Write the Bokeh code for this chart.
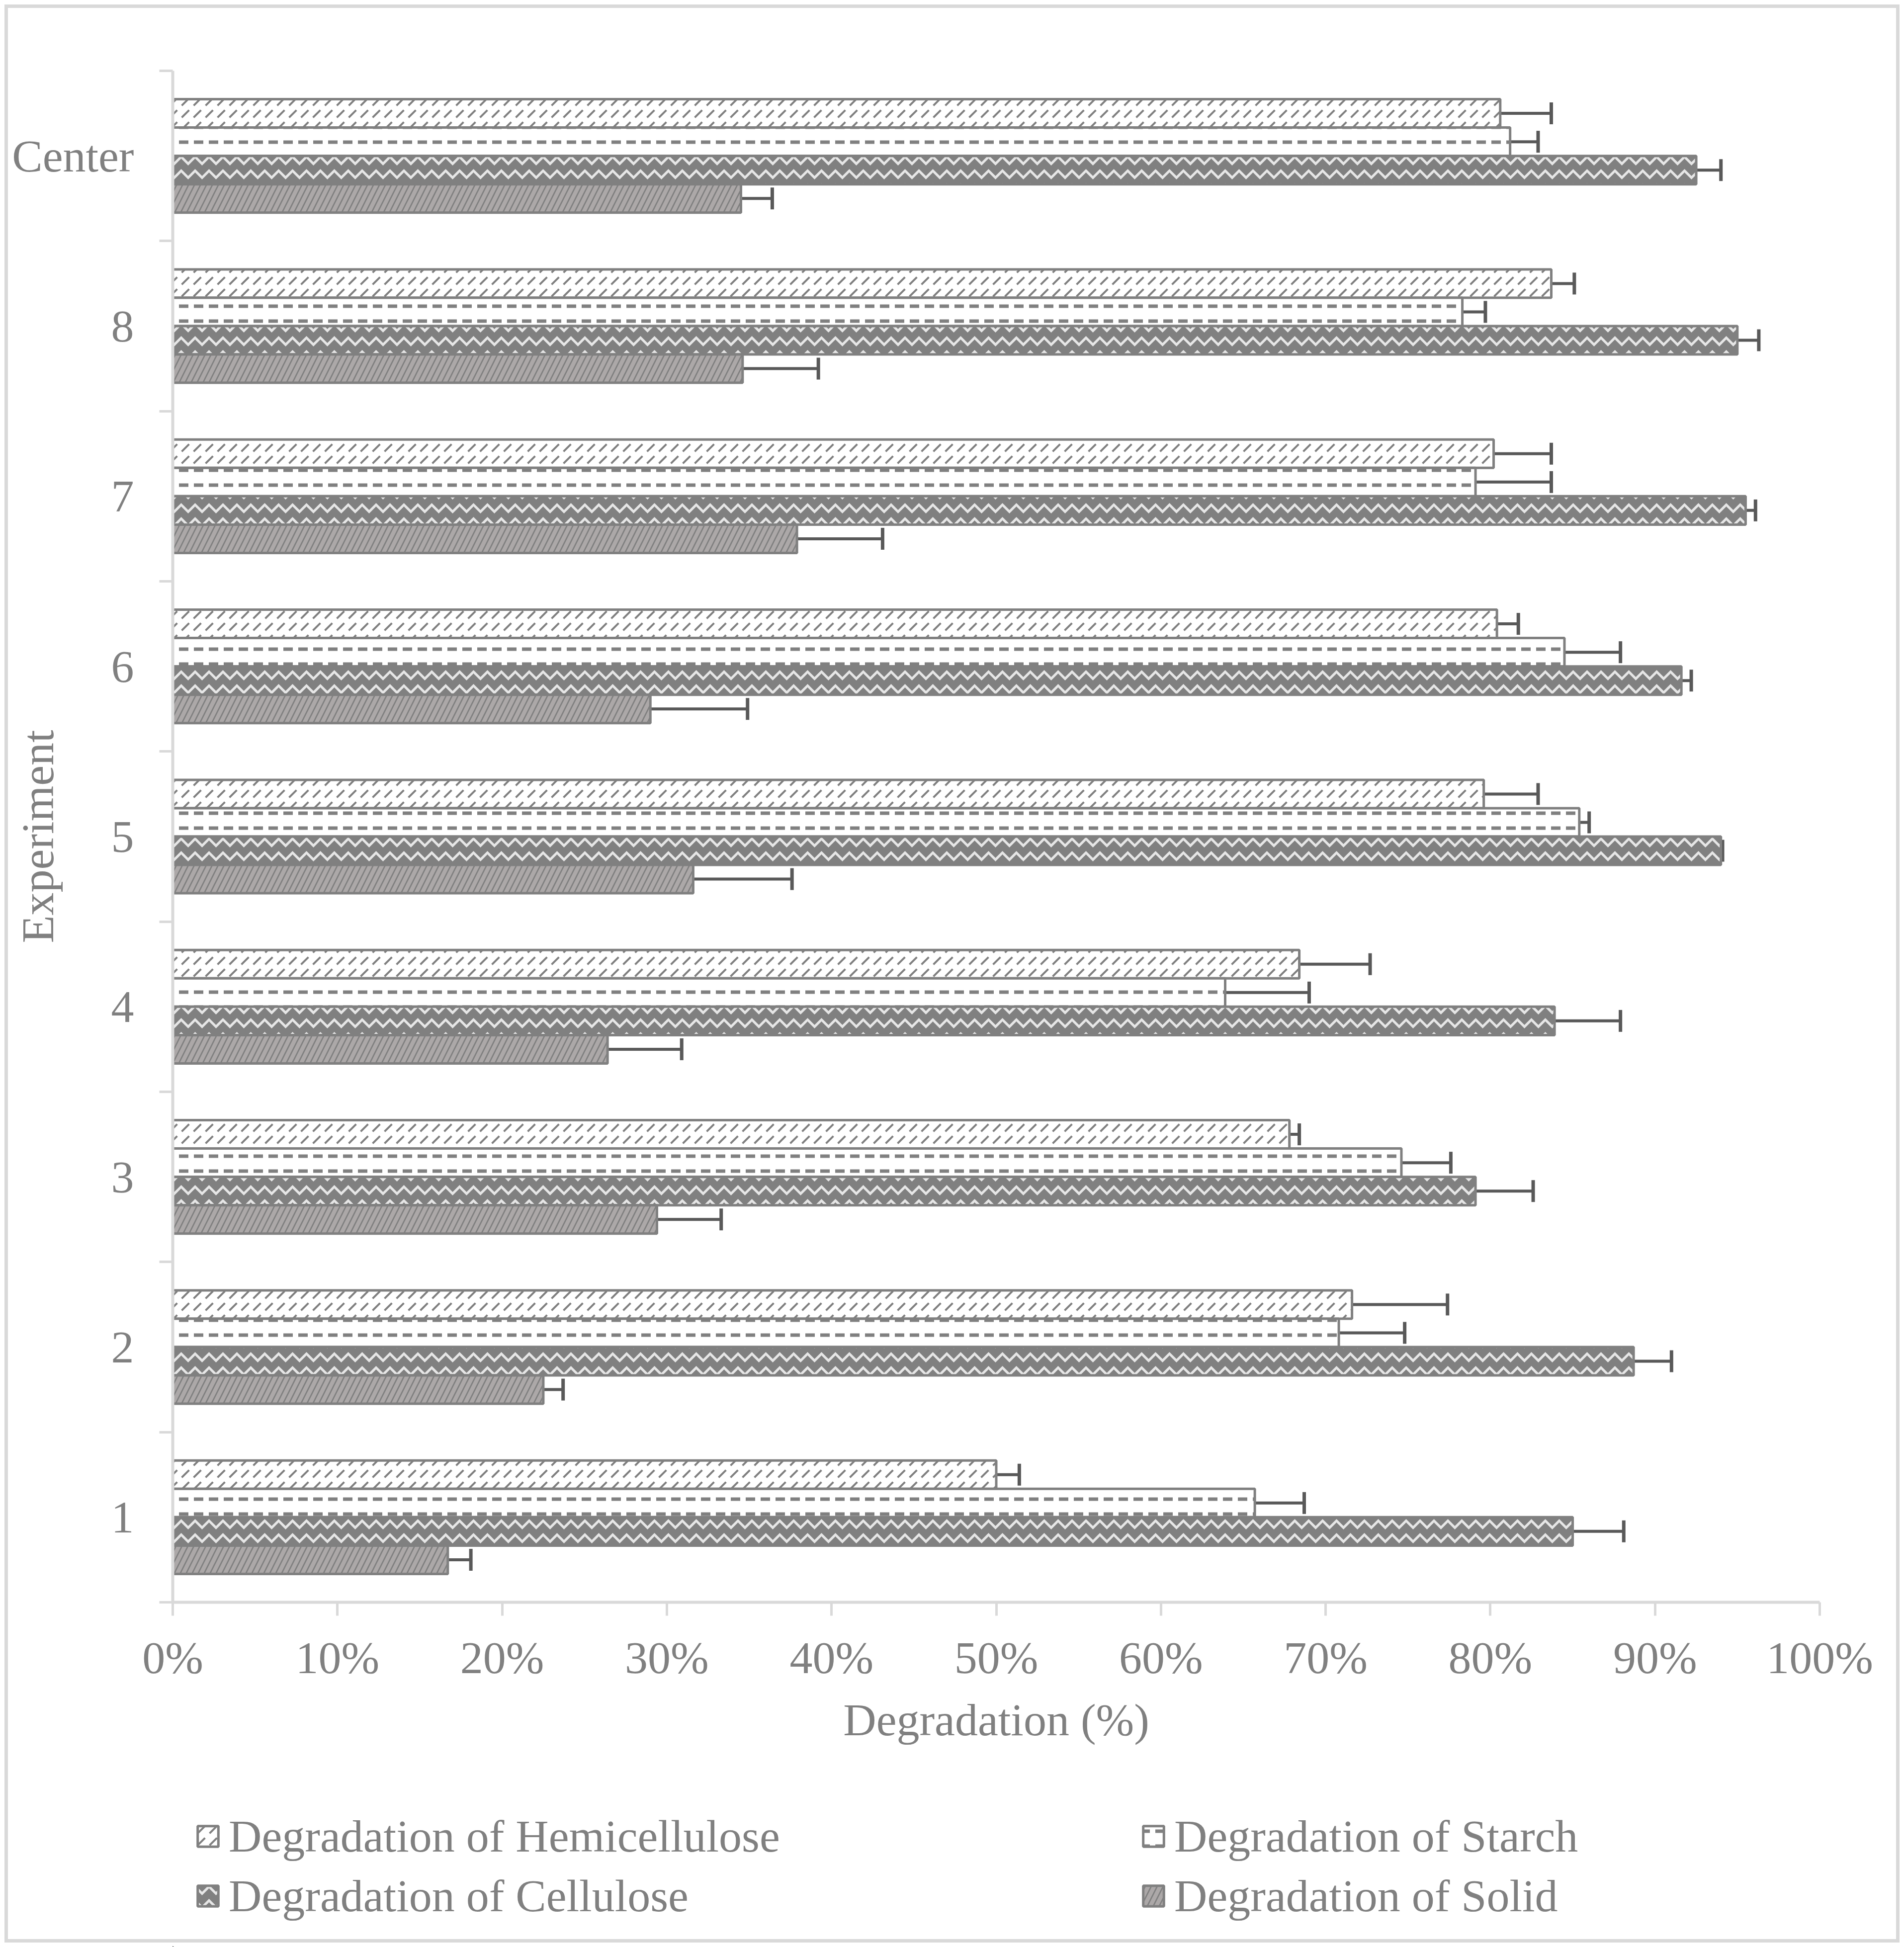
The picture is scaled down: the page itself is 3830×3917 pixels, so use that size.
import math
from bokeh.plotting import figure
from bokeh.layouts import column
from bokeh.models import (Range1d, FixedTicker, PrintfTickFormatter, Whisker, TeeHead,
                          ColumnDataSource, Legend, LegendItem)
from bokeh.embed import file_html
from bokeh.resources import INLINE

# ---------------- data ----------------
categories = ["1", "2", "3", "4", "5", "6", "7", "8", "Center"]
series_names = ["Degradation of Hemicellulose", "Degradation of Starch",
                "Degradation of Cellulose", "Degradation of Solid"]
hemicellulose = [50.0, 71.6, 67.8, 68.4, 79.6, 80.4, 80.2, 83.7, 80.6]
hemicellulose_err = [1.4, 5.8, 0.6, 4.3, 3.3, 1.3, 3.5, 1.4, 3.1]
starch = [65.7, 70.8, 74.6, 63.9, 85.4, 84.5, 79.1, 78.3, 81.2]
starch_err = [3.0, 4.0, 3.0, 5.1, 0.6, 3.4, 4.6, 1.4, 1.7]
cellulose = [85.0, 88.7, 79.1, 83.9, 94.0, 91.6, 95.5, 95.0, 92.5]
cellulose_err = [3.1, 2.3, 3.5, 4.0, 0.1, 0.6, 0.6, 1.3, 1.5]
solid = [16.7, 22.5, 29.4, 26.4, 31.6, 29.0, 37.9, 34.6, 34.5]
solid_err = [1.4, 1.2, 3.9, 4.5, 6.0, 5.9, 5.2, 4.6, 1.9]
x_ticks = [0, 10, 20, 30, 40, 50, 60, 70, 80, 90, 100]
x_label = "Degradation (%)"
y_label = "Experiment"

# ---------------- styling ----------------
FONT = "Liberation Serif"
FS = "92px"
TXT = "#808080"
AX = "#d9d9d9"
BAR_LINE = "#808080"
ERR = "#595959"

W = 3830
H_TOP = 3580
H_LEG = 337
F_LEFT, F_RIGHT, F_TOP, F_BOTTOM = 347, 3660, 142, 3223

p = figure(width=W, height=H_TOP, output_backend="svg", toolbar_location=None,
           x_range=Range1d(0, 100), y_range=Range1d(0, len(categories)),
           min_border_left=F_LEFT, min_border_right=W - F_RIGHT, min_border_top=F_TOP,
           min_border_bottom=H_TOP - F_BOTTOM)
p.outline_line_color = None
p.xgrid.visible = False
p.ygrid.visible = False
p.border_fill_color = None
p.background_fill_color = None

n = len(categories)
group_frac = 1 / 1.5
bh = group_frac / 4
offsets = [1.5 * bh, 0.5 * bh, -0.5 * bh, -1.5 * bh]

styles = [
    dict(fill_color="white", hatch_pattern="right_diagonal_dash", hatch_color="#808080",
         hatch_scale=24, hatch_weight=4),
    dict(fill_color="white", hatch_pattern="horizontal_dash", hatch_color="#808080",
         hatch_scale=30, hatch_weight=7),
    dict(fill_color="#808080", hatch_pattern="horizontal_wave", hatch_color="#e6e6e6",
         hatch_scale=28, hatch_weight=5),
    dict(fill_color="#808080", hatch_pattern="right_diagonal_line", hatch_color="#aca8a8",
         hatch_scale=24, hatch_weight=8),
]
vals = [hemicellulose, starch, cellulose, solid]
errs = [hemicellulose_err, starch_err, cellulose_err, solid_err]

for k in range(4):
    ys = [i + 0.5 + offsets[k] for i in range(n)]
    src = ColumnDataSource(dict(y=ys, right=vals[k],
                                lower=[v - e for v, e in zip(vals[k], errs[k])],
                                upper=[v + e for v, e in zip(vals[k], errs[k])]))
    p.hbar(y="y", left=0, right="right", height=bh, source=src,
           line_color=BAR_LINE, line_width=5, **styles[k])
    w = Whisker(source=src, base="y", lower="lower", upper="upper", dimension="width",
                line_color=ERR, line_width=6,
                lower_head=TeeHead(size=44, line_color=ERR, line_width=7),
                upper_head=TeeHead(size=44, line_color=ERR, line_width=7))
    p.add_layout(w)

# x axis
xa = p.xaxis[0]
xa.ticker = FixedTicker(ticks=x_ticks)
xa.formatter = PrintfTickFormatter(format="%d%%")
xa.axis_line_color = AX
xa.axis_line_width = 6
xa.major_tick_line_color = AX
xa.major_tick_line_width = 5
xa.major_tick_out = 27
xa.major_tick_in = 0
xa.minor_tick_line_color = None
xa.major_label_text_font = FONT
xa.major_label_text_font_size = FS
xa.major_label_text_color = TXT
xa.major_label_standoff = 33
xa.axis_label = x_label
xa.axis_label_text_font = FONT
xa.axis_label_text_font_size = FS
xa.axis_label_text_font_style = "normal"
xa.axis_label_text_color = TXT
xa.axis_label_standoff = 20

# y axis
ya = p.yaxis[0]
centers = [i + 0.5 for i in range(n)]
ya.ticker = FixedTicker(ticks=centers, minor_ticks=list(range(n + 1)))
ya.major_label_overrides = {c: lab for c, lab in zip(centers, categories)}
ya.axis_line_color = AX
ya.axis_line_width = 6
ya.major_tick_line_color = None
ya.major_tick_out = 0
ya.major_tick_in = 0
ya.minor_tick_line_color = AX
ya.minor_tick_line_width = 5
ya.minor_tick_out = 27
ya.minor_tick_in = 0
ya.major_label_text_font = FONT
ya.major_label_text_font_size = FS
ya.major_label_text_color = TXT
ya.major_label_standoff = 51
ya.axis_label = y_label
ya.axis_label_text_font = FONT
ya.axis_label_text_font_size = FS
ya.axis_label_text_font_style = "normal"
ya.axis_label_text_color = TXT
ya.axis_label_standoff = -106

# ---------------- legend strip ----------------
q = figure(width=W, height=H_LEG, output_backend="svg", toolbar_location=None,
           x_range=Range1d(0, F_RIGHT - F_LEFT), y_range=Range1d(0, H_LEG),
           x_axis_location=None, y_axis_location=None,
           min_border_left=F_LEFT, min_border_right=W - F_RIGHT,
           min_border_top=0, min_border_bottom=0)
q.outline_line_color = None
q.grid.visible = False
q.border_fill_color = None
q.background_fill_color = None

proxies = []
for k in range(4):
    # legend proxy glyphs, placed far outside the visible range
    proxies.append(q.hbar(y=[-100000], left=[-100000], right=[-99999], height=1,
                          line_color=BAR_LINE, line_width=5, **styles[k]))

def make_legend(idx, loc):
    return Legend(items=[LegendItem(label=series_names[k], renderers=[proxies[k]]) for k in idx],
                  location=loc, orientation="vertical",
                  border_line_color=None, background_fill_alpha=0, padding=0, margin=0,
                  spacing=14, glyph_width=52, glyph_height=52, label_standoff=16,
                  label_height=106,
                  label_text_font=FONT, label_text_font_size=FS, label_text_color=TXT)

q.add_layout(make_legend([0, 2], (45, 50)))
q.add_layout(make_legend([1, 3], (1947, 50)))

layout = column(p, q, spacing=0)
layout.styles = {"box-shadow": "inset 0 0 0 9px white, inset 0 0 0 16px #d9d9d9"}

open("out.html", "w").write(file_html(layout, INLINE))
